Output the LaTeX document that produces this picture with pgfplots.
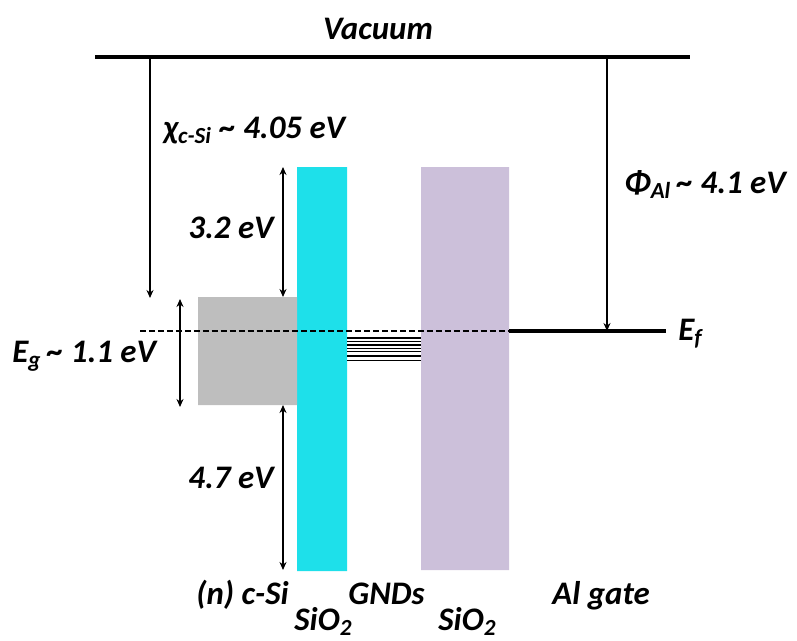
\documentclass[border=0pt]{standalone}
\usepackage{pgfplots}
\pgfplotsset{compat=1.18}
\usepackage{fontspec}
\setmainfont{Carlito}
\usetikzlibrary{arrows.meta}
\definecolor{oxA}{RGB}{30,224,234}
\definecolor{oxB}{RGB}{204,192,218}
\definecolor{siG}{RGB}{190,190,190}
\tikzset{lbl/.style={font=\fontsize{16.5}{18}\selectfont\bfseries\itshape, inner sep=0pt}}
\begin{document}
\begin{tikzpicture}
\begin{axis}[
  scale only axis, width=398.5bp, height=320.5bp,
  xmin=0, xmax=797, ymin=0, ymax=641, y dir=reverse,
  hide axis, clip=false,
]
\path (axis cs:0,0) rectangle (axis cs:797,641);
% oxide bars and c-Si gap
\addplot[fill=oxA, draw=none] coordinates {(297,167)(347,167)(347,571)(297,571)(297,167)};
\addplot[fill=oxB, draw=none] coordinates {(421,167)(509,167)(509,570)(421,570)(421,167)};
\addplot[fill=siG, draw=none] coordinates {(198,297)(297,297)(297,405)(198,405)(198,297)};
% GND levels
\addplot[black, line width=0.6pt] coordinates {(347,338)(421,338)};
\addplot[black, line width=0.6pt] coordinates {(347,341.7)(421,341.7)};
\addplot[black, line width=0.6pt] coordinates {(347,345)(421,345)};
\addplot[black, line width=0.6pt] coordinates {(347,348.3)(421,348.3)};
\addplot[black, line width=0.6pt] coordinates {(347,351.7)(421,351.7)};
\addplot[black, line width=0.6pt] coordinates {(347,356)(421,356)};
\addplot[black, line width=0.6pt] coordinates {(347,360.5)(421,360.5)};
% vacuum level
\addplot[black, line width=2bp] coordinates {(95,57)(690,57)};
% Fermi level
\addplot[black, line width=0.8pt, dash pattern=on 3pt off 1.5pt] coordinates {(140,331)(509,331)};
\addplot[black, line width=1.8bp] coordinates {(509,331)(666,331)};
% arrows
\addplot[black, line width=0.7pt, -{Stealth[length=4pt,width=3.5pt]}] coordinates {(150,57)(150,298)};
\addplot[black, line width=0.7pt, -{Stealth[length=4pt,width=3.5pt]}] coordinates {(607,57)(607,331)};
\addplot[black, line width=0.7pt, {Stealth[length=4pt,width=3.5pt]}-{Stealth[length=4pt,width=3.5pt]}] coordinates {(180,299)(180,407)};
\addplot[black, line width=0.7pt, {Stealth[length=4pt,width=3.5pt]}-{Stealth[length=4pt,width=3.5pt]}] coordinates {(283,167)(283,297)};
\addplot[black, line width=0.7pt, {Stealth[length=4pt,width=3.5pt]}-{Stealth[length=4pt,width=3.5pt]}] coordinates {(283,405)(283,570)};
% labels
\node[lbl, anchor=base] at (axis cs:378,40) {Vacuum};
\node[lbl, anchor=base west] at (axis cs:163,138) {χ\textsubscript{c-Si} \textasciitilde\ 4.05 eV};
\node[lbl, anchor=base west] at (axis cs:624,193) {Φ\textsubscript{Al}\,\textasciitilde\ 4.1 eV};
\node[lbl, anchor=base east] at (axis cs:274,238) {3.2 eV};
\node[lbl, anchor=base east] at (axis cs:274,488) {4.7 eV};
\node[lbl, anchor=base west] at (axis cs:12,362) {E\textsubscript{g}\,\textasciitilde\ 1.1 eV};
\node[lbl, anchor=base west] at (axis cs:678,340) {E\textsubscript{f}};
\node[lbl, anchor=base east] at (axis cs:289,604) {(n) c-Si};
\node[lbl, anchor=base west] at (axis cs:294,630) {SiO\textsubscript{2}};
\node[lbl, anchor=base west] at (axis cs:348,604) {GNDs};
\node[lbl, anchor=base west] at (axis cs:438,630) {SiO\textsubscript{2}};
\node[lbl, anchor=base west] at (axis cs:552,604) {Al gate};
\end{axis}
\end{tikzpicture}
\end{document}
